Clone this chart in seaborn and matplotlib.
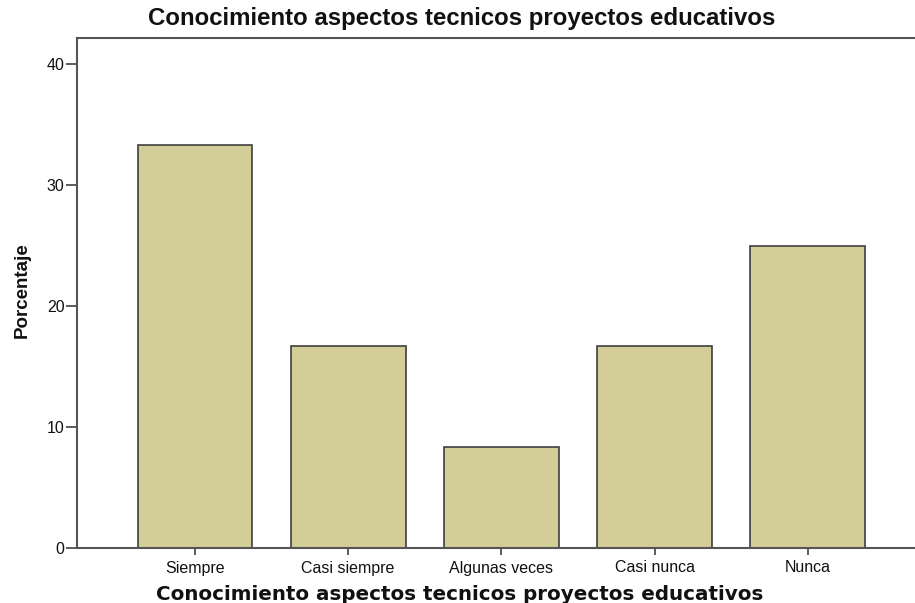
import matplotlib
matplotlib.use("Agg")
import matplotlib.pyplot as plt
import seaborn as sns
import pandas as pd

categories = ["Siempre", "Casi siempre", "Algunas veces", "Casi nunca", "Nunca"]
percentages = [33.33, 16.67, 8.33, 16.67, 25.0]
yticks = [0, 10, 20, 30, 40]

sns.set_style("white")
plt.rcParams['font.family'] = ['Liberation Sans', 'DejaVu Sans']

df = pd.DataFrame({"cat": categories, "pct": percentages})

fig = plt.figure(figsize=(9.15, 6.03), dpi=100)
ax = fig.add_axes([77/915, 1-548/603, 1-77/915, (548-38)/603])

sns.barplot(data=df, x="cat", y="pct", order=categories, color="#D3CE98",
            saturation=1, width=0.75, edgecolor="#3f3f3f", linewidth=1.2, ax=ax)

ax.set_xlim(-0.77, 4.70)
ax.set_ylim(0, 42.15)
ax.set_yticks(yticks)
ax.set_yticklabels([str(v) for v in yticks], fontsize=11.5)
ax.set_xticks(range(len(categories)))
ax.set_xticklabels(categories, fontsize=11.5)
ax.tick_params(axis="x", direction="out", length=5, width=1.2, color="#3f3f3f", pad=4,
               bottom=True, labelcolor="#111111")
ax.tick_params(axis="y", direction="out", length=8, width=1.2, color="#3f3f3f", pad=1,
               left=True, labelcolor="#111111")

for s in ["left", "bottom", "top"]:
    ax.spines[s].set_visible(True)
    ax.spines[s].set_color("#555555")
    ax.spines[s].set_linewidth(1.5)
ax.spines["right"].set_visible(False)

ax.set_ylabel("Porcentaje", fontsize=13.5, fontweight="bold", color="#111111")
ax.yaxis.set_label_coords(-0.055, 0.505)
ax.set_xlabel("Conocimiento aspectos tecnicos proyectos educativos", fontsize=14.3,
              fontweight="bold", family=['DejaVu Sans'], color="#111111")
ax.xaxis.set_label_coords((460 - 77) / 838, -0.0725)
fig.text(462/915, 1-19/603, "Conocimiento aspectos tecnicos proyectos educativos",
         ha="center", va="center", fontsize=17.3, fontweight="bold", color="#111111")

fig.savefig("out.png", dpi=100)
